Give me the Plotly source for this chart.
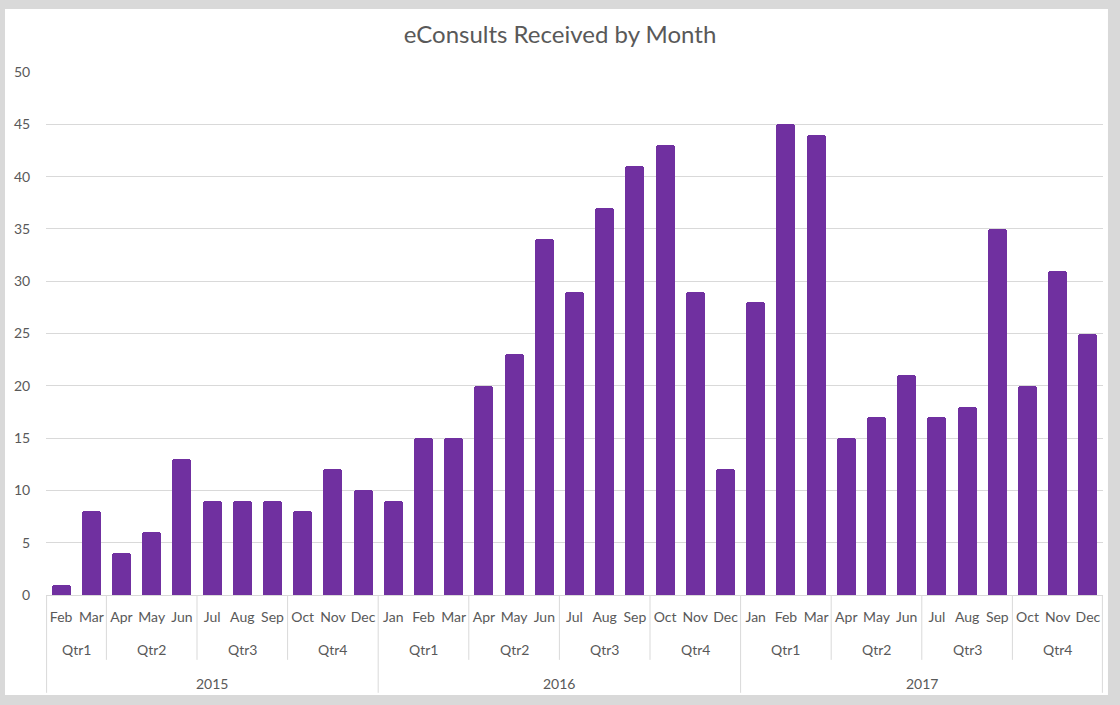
import plotly.graph_objects as go

years = ["2015"] * 11 + ["2016"] * 12 + ["2017"] * 12
quarters = (["Qtr1"] * 2 + ["Qtr2"] * 3 + ["Qtr3"] * 3 + ["Qtr4"] * 3
            + (["Qtr1"] * 3 + ["Qtr2"] * 3 + ["Qtr3"] * 3 + ["Qtr4"] * 3) * 2)
months = (["Feb", "Mar", "Apr", "May", "Jun", "Jul", "Aug", "Sep", "Oct", "Nov", "Dec"]
          + ["Jan", "Feb", "Mar", "Apr", "May", "Jun", "Jul", "Aug", "Sep", "Oct", "Nov", "Dec"] * 2)
values = [1, 8, 4, 6, 13, 9, 9, 9, 8, 12, 10,
          9, 15, 15, 20, 23, 34, 29, 37, 41, 43, 29, 12,
          28, 45, 44, 15, 17, 21, 17, 18, 35, 20, 31, 25]

FONT = "Lato"
TXT = "#595959"
GRID = "#d9d9d9"

x = list(range(len(values)))

fig = go.Figure(go.Bar(
    x=x, y=values, width=0.63,
    marker=dict(color="#7030A0", cornerradius=3, line=dict(width=0)),
    hoverinfo="x+y",
))

shapes = []
annotations = []

# white chart area over grey frame
shapes.append(dict(type="rect", xref="paper", yref="paper",
                   x0=-0.0388, x1=1.0047, y0=-0.1912, y1=1.1205,
                   fillcolor="white", line=dict(width=0), layer="below"))

QSEP = -0.124
YSEP = -0.187

n = len(values)
shapes.append(dict(type="line", xref="x", yref="paper", x0=-0.5 + 0.02, x1=-0.5 + 0.02,
                   y0=0, y1=YSEP, line=dict(color=GRID, width=1)))
shapes.append(dict(type="line", xref="x", yref="paper", x0=n - 0.5 - 0.02, x1=n - 0.5 - 0.02,
                   y0=0, y1=YSEP, line=dict(color=GRID, width=1)))
for i in range(1, n):
    if years[i] != years[i - 1]:
        shapes.append(dict(type="line", xref="x", yref="paper", x0=i - 0.5, x1=i - 0.5,
                           y0=0, y1=YSEP, line=dict(color=GRID, width=1)))
    elif quarters[i] != quarters[i - 1]:
        shapes.append(dict(type="line", xref="x", yref="paper", x0=i - 0.5, x1=i - 0.5,
                           y0=0, y1=QSEP, line=dict(color=GRID, width=1)))

# quarter labels
start = 0
for i in range(1, n + 1):
    if i == n or quarters[i] != quarters[start] or years[i] != years[start]:
        annotations.append(dict(x=(start + i - 1) / 2, y=-0.105, xref="x", yref="paper",
                                text=quarters[start], showarrow=False,
                                xanchor="center", yanchor="middle",
                                font=dict(family=FONT, size=14, color=TXT)))
        start = i
# year labels
start = 0
for i in range(1, n + 1):
    if i == n or years[i] != years[start]:
        annotations.append(dict(x=(start + i - 1) / 2, y=-0.170, xref="x", yref="paper",
                                text=years[start], showarrow=False,
                                xanchor="center", yanchor="middle",
                                font=dict(family=FONT, size=14, color=TXT)))
        start = i

fig.update_layout(
    width=1120, height=705,
    margin=dict(l=46, r=17, t=72, b=110),
    paper_bgcolor="#d9d9d9",
    plot_bgcolor="rgba(0,0,0,0)",
    title=dict(text="eConsults Received by Month", x=0.5, xref="container", xanchor="center",
               y=1 - 35 / 705, yref="container", yanchor="middle",
               font=dict(family=FONT, size=24, color=TXT)),
    showlegend=False,
    bargap=0,
    xaxis=dict(range=[-0.5, n - 0.5], tickmode="array", tickvals=x, ticktext=months,
               showgrid=False, zeroline=False, showline=False,
               ticks="outside", ticklen=9, tickcolor="rgba(0,0,0,0)",
               tickangle=0,
               tickfont=dict(family=FONT, size=14, color=TXT)),
    yaxis=dict(range=[0, 50], dtick=5, showgrid=True, gridcolor=GRID, gridwidth=1,
               zeroline=True, zerolinecolor=GRID, zerolinewidth=1, showline=False,
               ticks="outside", ticklen=12, tickcolor="rgba(0,0,0,0)",
               tickfont=dict(family=FONT, size=14, color=TXT)),
    shapes=shapes,
    annotations=annotations,
)

fig.write_html("out.html",
               config={"displayModeBar": False},
               post_script="document.body.style.margin='0';document.body.style.overflow='hidden';")
